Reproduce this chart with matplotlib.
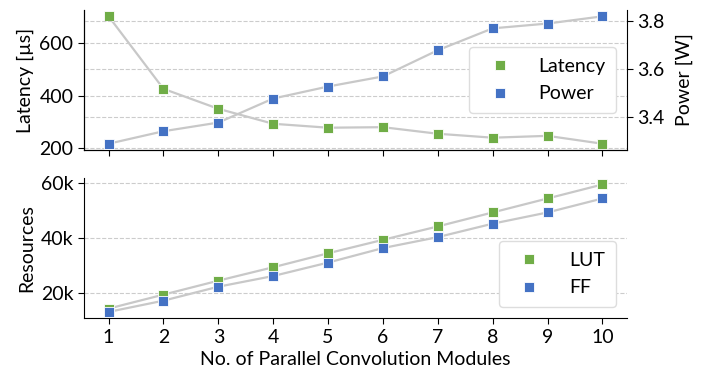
import matplotlib
matplotlib.use("Agg")
from matplotlib import pyplot as plt
from matplotlib.ticker import FuncFormatter

plt.rcParams['font.family'] = ['Lato', 'DejaVu Sans']
plt.rcParams['font.size'] = 14

modules = [1, 2, 3, 4, 5, 6, 7, 8, 9, 10]
latency = [703, 427, 351, 294, 279, 281, 256, 241, 248, 218]
power = [3.29, 3.342, 3.378, 3.478, 3.528, 3.57, 3.679, 3.77, 3.79, 3.82]
lut = [14300, 19400, 24500, 29400, 34500, 39400, 44300, 49400, 54500, 59600]
ff = [13100, 17200, 22300, 26200, 31100, 36400, 40400, 45300, 49400, 54500]

green = '#70AD47'
blue = '#4472C4'
line_color = '#c8c8c8'
marker_kw = dict(marker='s', linestyle='none', markersize=6.5,
                 markeredgecolor='white', markeredgewidth=0.6)

fig, (ax1, ax3) = plt.subplots(2, 1, figsize=(7.11, 3.83), dpi=100, sharex=True)
fig.subplots_adjust(left=0.118, right=0.882, top=0.974, bottom=0.169, hspace=0.2)

# top panel: latency (left) + power (right)
ax1.plot(modules, latency, color=line_color, lw=1.6, zorder=1)
h1, = ax1.plot(modules, latency, color=green, label='Latency', zorder=3, **marker_kw)
ax1.set_ylabel('Latency [µs]')
ax1.set_yticks([200, 400, 600])
ax1.grid(axis='y', linestyle='--', color='#cccccc', lw=0.8)
ax1.spines['top'].set_visible(False)
ax1.spines['right'].set_visible(False)

ax2 = ax1.twinx()
ax2.plot(modules, power, color=line_color, lw=1.6, zorder=1)
h2, = ax2.plot(modules, power, color=blue, label='Power', zorder=3, **marker_kw)
ax2.set_ylabel('Power [W]', labelpad=8)
ax2.set_yticks([3.4, 3.6, 3.8])
ax2.grid(axis='y', linestyle='--', color='#cccccc', lw=0.8)
ax2.spines['top'].set_visible(False)
ax2.legend([h1, h2], ['Latency', 'Power'], loc='center right',
           bbox_to_anchor=(0.998, 0.5), handletextpad=1.0, borderpad=0.55,
           labelspacing=0.55, framealpha=1, edgecolor='#dddddd')

# bottom panel: resources
ax3.plot(modules, lut, color=line_color, lw=1.6, zorder=1)
ax3.plot(modules, ff, color=line_color, lw=1.6, zorder=1)
ax3.plot(modules, lut, color=green, label='LUT', zorder=3, **marker_kw)
ax3.plot(modules, ff, color=blue, label='FF', zorder=3, **marker_kw)
ax3.set_ylabel('Resources')
ax3.set_yticks([20000, 40000, 60000])
ax3.yaxis.set_major_formatter(FuncFormatter(lambda v, p: f'{int(v / 1000)}k'))
ax3.grid(axis='y', linestyle='--', color='#cccccc', lw=0.8)
ax3.spines['top'].set_visible(False)
ax3.spines['right'].set_visible(False)
ax3.set_xticks(modules)
ax3.set_xlabel('No. of Parallel Convolution Modules')
ax3.legend(loc='lower right', bbox_to_anchor=(0.998, 0.01), handletextpad=1.1,
           borderpad=0.55, labelspacing=0.55, framealpha=1, edgecolor='#dddddd')

for ax in (ax1, ax2, ax3):
    ax.tick_params(length=4)

fig.savefig('out.png', dpi=100)
